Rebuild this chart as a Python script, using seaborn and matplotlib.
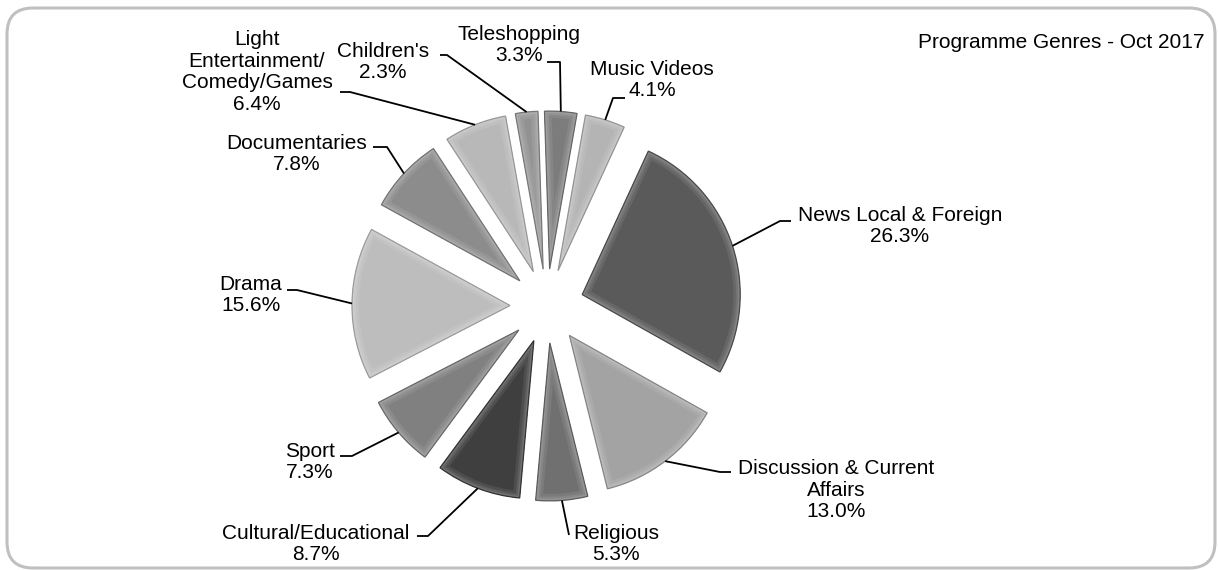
import matplotlib
matplotlib.use("Agg")
import matplotlib.pyplot as plt
from matplotlib.patches import Wedge, FancyBboxPatch
import numpy as np
import seaborn as sns

# Programme genre shares, October 2017 (clockwise from the top)
genres = [
    "Music Videos",
    "News Local & Foreign",
    "Discussion & Current\nAffairs",
    "Religious",
    "Cultural/Educational",
    "Sport",
    "Drama",
    "Documentaries",
    "Light\nEntertainment/\nComedy/Games",
    "Children's",
    "Teleshopping",
]
shares = [4.1, 26.3, 13.0, 5.3, 8.7, 7.3, 15.6, 7.8, 6.4, 2.3, 3.3]
title = "Programme Genres - Oct 2017"

# grey level of each slice
greys = ["#b4b4b4", "#5a5a5a", "#a3a3a3", "#707070", "#3f3f3f", "#808080",
         "#bdbdbd", "#8c8c8c", "#b8b8b8", "#929292", "#7c7c7c"]

W, H = 1218, 570

# label layout in pixel space measured from the top-left corner:
# text centre, elbow of the leader line, end of the leader line next to the text
label_xy = [(652, 80), (900, 226), (836, 490), (616, 544), (316, 544),
            (310, 462), (251, 295), (297, 154), (257, 72), (383, 62), (519, 45)]
elbow_xy = [(613, 98), (780, 221), (720, 472), (569, 535), (428, 536),
            (352, 456), (297, 290), (387, 147), (350, 92), (447, 55), (560, 62)]
end_xy = [(625, 98), (791, 221), (731, 472), (569, 535), (417, 536),
          (340, 456), (287, 290), (373, 147), (340, 92), (440, 55), (547, 62)]

sns.set_theme(style="white")
plt.rcParams["font.family"] = ["Liberation Sans", "DejaVu Sans"]

fig = plt.figure(figsize=(W / 100, H / 100), dpi=100)
ax = fig.add_axes([0, 0, 1, 1])

radius = 158
gap = 37  # outward offset of every slice, in pixels
centre = (547, H - 306)
wedges, _ = ax.pie(
    shares,
    colors=greys,
    startangle=80,
    counterclock=False,
    explode=[gap] * len(shares),
    radius=radius,
    center=centre,
    wedgeprops=dict(linewidth=0),
)


def blend(c, other, t):
    a = np.array(matplotlib.colors.to_rgb(c))
    b = np.array(matplotlib.colors.to_rgb(other))
    return tuple(a * (1 - t) + b * t)


# bevelled look: soft light rim inside each slice and a darker outline
for w, g in zip(wedges, greys):
    for lw, t in [(10, 0.08), (6, 0.16), (3, 0.26)]:
        rim = Wedge(w.center, w.r, w.theta1, w.theta2, facecolor="none",
                    edgecolor=blend(g, "white", t), linewidth=lw, zorder=2)
        ax.add_patch(rim)
        rim.set_clip_path(w)
    outline = Wedge(w.center, w.r, w.theta1, w.theta2, facecolor="none",
                    edgecolor=blend(g, "black", 0.18), linewidth=0.9, zorder=3)
    ax.add_patch(outline)

# labels with leader lines attached at the middle of each slice's arc
for w, name, v, (lx, ly), (ex, ey), (tx, ty) in zip(
        wedges, genres, shares, label_xy, elbow_xy, end_xy):
    mid = np.deg2rad(0.5 * (w.theta1 + w.theta2))
    ax_x = w.center[0] + w.r * np.cos(mid)
    ax_y = w.center[1] + w.r * np.sin(mid)
    ax.plot([ax_x, ex, tx], [ax_y, H - ey, H - ty], color="black",
            linewidth=1.3, solid_capstyle="butt", zorder=4)
    ax.text(lx, H - ly, f"{name}\n{v:.1f}%", ha="center", va="center",
            multialignment="center", fontsize=15, color="black",
            linespacing=1.18, zorder=5)

ax.text(1205, H - 43, title, ha="right", va="center", fontsize=15,
        color="black")

# rounded frame around the chart
frame = FancyBboxPatch((7, H - 568), 1208, 560,
                       boxstyle="round,pad=0,rounding_size=26",
                       facecolor="none", edgecolor="#c0c0c0", linewidth=2.2,
                       zorder=1)
ax.add_patch(frame)

ax.set_xlim(0, W)
ax.set_ylim(0, H)
ax.set_aspect("equal")
ax.axis("off")

fig.savefig("out.png", dpi=100, facecolor="white")
